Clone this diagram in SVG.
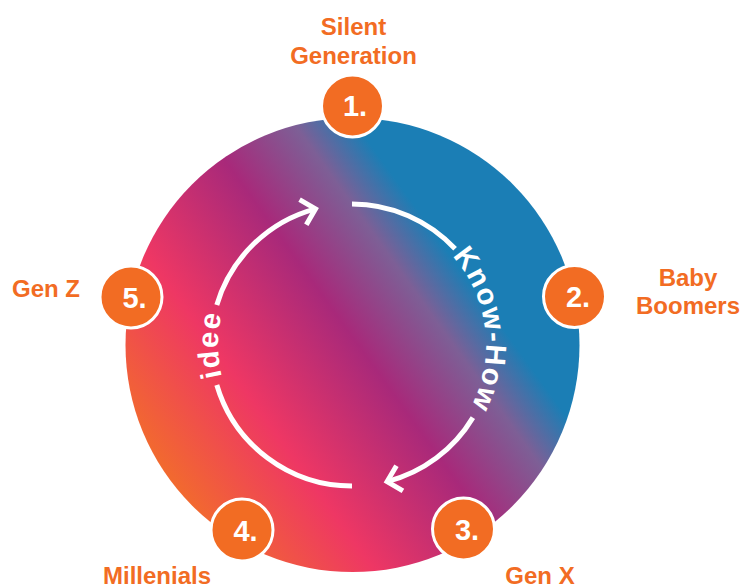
<svg xmlns="http://www.w3.org/2000/svg" xmlns:xlink="http://www.w3.org/1999/xlink" width="743" height="588" viewBox="0 0 743 588">
  <style>
    .label { font-family: "Liberation Sans", Arial, sans-serif; font-weight: bold; font-size: 24px; fill: #F26C23; text-anchor: middle; }
    .num { font-family: "Liberation Sans", Arial, sans-serif; font-weight: bold; font-size: 29px; fill: #FFFFFF; text-anchor: middle; }
    .badge { fill: #F26C23; stroke: #FFFFFF; stroke-width: 3; }
    .cycle { fill: none; stroke: #FFFFFF; stroke-width: 5; }
    .arc-text { font-family: "Liberation Sans", Arial, sans-serif; font-weight: bold; font-size: 29px; fill: #FFFFFF; letter-spacing: 1.5px; }
  </style>
  <defs>
    <linearGradient id="wheelFill" gradientUnits="userSpaceOnUse" x1="168" y1="478" x2="537" y2="212">
      <stop offset="0" stop-color="#F26A2E"/>
      <stop offset="0.25" stop-color="#EE3764"/>
      <stop offset="0.51" stop-color="#A8297A"/>
      <stop offset="0.68" stop-color="#7D5F96"/>
      <stop offset="0.79" stop-color="#1B7EB5"/>
      <stop offset="1" stop-color="#1B7EB5"/>
    </linearGradient>
    <marker id="chevron" viewBox="-16 -16 20 32" refX="0" refY="0" markerWidth="20" markerHeight="32" markerUnits="userSpaceOnUse" orient="auto">
      <path d="M-13,-13 L0,0 L-13,13" fill="none" stroke="#FFFFFF" stroke-width="5"/>
    </marker>
    <!-- baselines for the curved captions, circle r=134 around (352,345) -->
    <path id="knowHowPath" d="M397.8,219.1 A134,134 0 0 1 426.9,456.1"/>
    <path id="ideePath" d="M265.9,447.6 A134,134 0 0 1 265.9,242.4"/>
  </defs>

  <!-- main wheel -->
  <g id="wheel">
    <circle cx="352.5" cy="345" r="227" fill="url(#wheelFill)"/>
  </g>

  <!-- cycle arrows -->
  <g id="connectors">
    <path class="cycle" d="M352,204 A141,141 0 0 1 455.1,248.8"/>
    <path class="cycle" d="M472.9,417.6 A141,141 0 0 1 387.1,481.6" marker-end="url(#chevron)"/>
    <path class="cycle" d="M352,486 A141,141 0 0 1 216.8,385"/>
    <path class="cycle" d="M216.8,305 A141,141 0 0 1 315.5,208.8" marker-end="url(#chevron)"/>
    <text class="arc-text"><textPath xlink:href="#knowHowPath" href="#knowHowPath" startOffset="50%" text-anchor="middle">Know-How</textPath></text>
    <text class="arc-text"><textPath xlink:href="#ideePath" href="#ideePath" startOffset="50%" text-anchor="middle">idee</textPath></text>
  </g>

  <g id="node-1">
    <circle class="badge" cx="352.5" cy="106" r="31"/>
    <text class="num" x="355" y="116">1.</text>
    <text class="label" x="353.5" y="35">Silent</text>
    <text class="label" x="353.5" y="64">Generation</text>
  </g>

  <g id="node-2">
    <circle class="badge" cx="574.5" cy="296.5" r="31"/>
    <text class="num" x="578" y="307">2.</text>
    <text class="label" x="688" y="286">Baby</text>
    <text class="label" x="688" y="314">Boomers</text>
  </g>

  <g id="node-3">
    <circle class="badge" cx="463.5" cy="529" r="31"/>
    <text class="num" x="467" y="539.5">3.</text>
    <text class="label" x="540" y="584">Gen X</text>
  </g>

  <g id="node-4">
    <circle class="badge" cx="242" cy="530" r="31"/>
    <text class="num" x="245.5" y="540.5">4.</text>
    <text class="label" x="157" y="584">Millenials</text>
  </g>

  <g id="node-5">
    <circle class="badge" cx="131" cy="297" r="31"/>
    <text class="num" x="134.5" y="307.5">5.</text>
    <text class="label" x="46" y="297">Gen Z</text>
  </g>
</svg>
